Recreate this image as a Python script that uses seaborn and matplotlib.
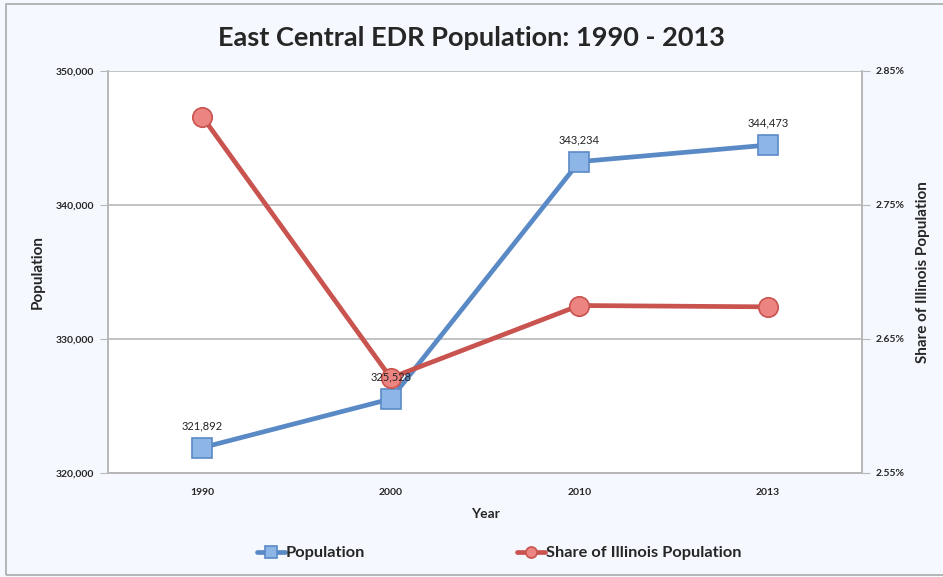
import numpy as np
import pandas as pd
import matplotlib.pyplot as plt
import matplotlib.ticker as mticker
from matplotlib.patches import Rectangle
import seaborn as sns

# ── Datos ────────────────────────────────────────────────────────────────────
years = ["1990", "2000", "2010", "2013"]
population = [321892, 325528, 343234, 344473]
share_il = [2.816, 2.621, 2.675, 2.674]   # % de la población de Illinois

BLUE_LINE = "#5A8AC6"
BLUE_FILL = "#8DB6E6"
RED_LINE = "#C9534F"
RED_FILL = "#EC8582"
GRID = "#B7B7B7"

df = pd.DataFrame({"year": years, "pos": np.arange(len(years)),
                   "population": population, "share": share_il})

sns.set_style("white")
plt.rcParams["font.family"] = ["Lato", "DejaVu Sans"]

fig = plt.figure(figsize=(9.43, 5.77), dpi=100, facecolor="#F5F8FE")
fig.patches.append(Rectangle((6 / 943, 0.003), 1, 1 - 4 / 577 - 0.003,
                             transform=fig.transFigure, fill=False,
                             edgecolor="#A9A9A9", linewidth=1.2))
ax = fig.add_axes([108 / 943, 1 - 473 / 577, 754 / 943, 402 / 577])
ax.set_facecolor("white")
ax2 = ax.twinx()

sns.lineplot(data=df, x="pos", y="population", ax=ax, color=BLUE_LINE,
             linewidth=3.4, marker="s", markersize=14,
             markerfacecolor=BLUE_FILL, markeredgecolor=BLUE_LINE,
             markeredgewidth=1.2, label="Population", legend=False, zorder=3)
sns.lineplot(data=df, x="pos", y="share", ax=ax2, color=RED_LINE,
             linewidth=3.4, marker="o", markersize=14,
             markerfacecolor=RED_FILL, markeredgecolor=RED_LINE,
             markeredgewidth=1.2, label="Share of Illinois Population",
             legend=False, zorder=3)

# etiquetas de datos (en ax2 para quedar encima de los círculos)
for x, y in zip(df["pos"], df["population"]):
    ax2.annotate(f"{y:,}", (x, y), xycoords=ax.transData, xytext=(0, 12),
                 textcoords="offset points", ha="center", va="bottom",
                 fontsize=8, color="#222222", zorder=5)

# ejes
ax.set_xlim(-0.5, len(years) - 0.5)
ax.set_xticks(df["pos"], years)
ax.set_ylim(320000, 350000)
ax.set_yticks(range(320000, 350001, 10000))
ax.yaxis.set_major_formatter(mticker.FuncFormatter(lambda v, _: f"{int(v):,}"))
ax2.set_ylim(2.55, 2.85)
ax2.set_yticks([2.55, 2.65, 2.75, 2.85])
ax2.yaxis.set_major_formatter(mticker.FuncFormatter(lambda v, _: f"{v:.2f}%"))

ax.grid(axis="y", color=GRID, linewidth=1.2)
ax.set_axisbelow(True)
for a in (ax, ax2):
    for s in a.spines.values():
        s.set_color(GRID)
        s.set_linewidth(1.2)
    a.spines["top"].set_visible(False)
ax.tick_params(axis="y", length=6, color=GRID, labelsize=7.5, pad=4)
ax.tick_params(axis="x", length=0, labelsize=7.5, pad=11)
ax2.tick_params(axis="y", length=6, color=GRID, labelsize=7.5, pad=4)
for lbl in ax.get_xticklabels() + ax.get_yticklabels() + ax2.get_yticklabels():
    lbl.set_fontweight("bold")

ax.set_xlabel("Year", fontsize=10, fontweight="bold", labelpad=8)
ax.set_ylabel("Population", fontsize=11, fontweight="bold", labelpad=8)
ax2.set_ylabel("Share of Illinois Population", fontsize=11,
               fontweight="bold", labelpad=8)

fig.suptitle("East Central EDR Population: 1990 - 2013", fontsize=19.5,
             fontweight="bold", y=0.955)

h1, l1 = ax.get_legend_handles_labels()
h2, l2 = ax2.get_legend_handles_labels()
leg = fig.legend(h1 + h2, l1 + l2, loc="center",
                 bbox_to_anchor=(499 / 943, 1 - 553 / 577),
                 ncol=2, frameon=False, columnspacing=9.3, handlelength=1.7,
                 handletextpad=0.05, prop={"weight": "bold", "size": 11.8})
for line in leg.get_lines():
    line.set_markersize(8)

fig.savefig("out.png", dpi=100, facecolor=fig.get_facecolor())
